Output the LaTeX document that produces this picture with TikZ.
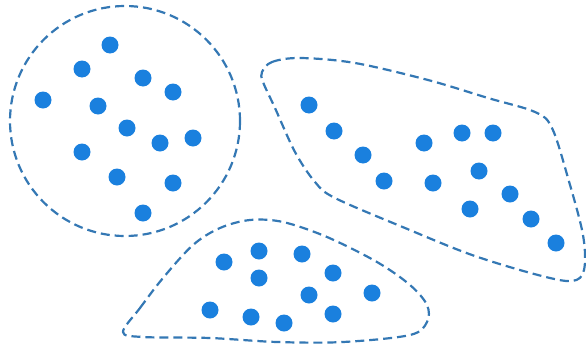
\documentclass[tikz,border=0pt]{standalone}
\begin{document}
\begin{tikzpicture}[x=1pt,y=-1pt,
    dot/.style={circle, fill=dotblue, inner sep=0pt, minimum size=17pt},
    blob/.style={draw=lineblue, line width=2.2pt, dash pattern=on 9pt off 5pt}]
    \definecolor{dotblue}{RGB}{26,128,222}
    \definecolor{lineblue}{RGB}{52,120,180}
    \useasboundingbox (0,0) rectangle (586,351);

    % cluster outlines
    \draw[blob] (125,121) circle (115);
    \draw[blob] plot[smooth cycle, tension=0.55] coordinates {
        (262,72) (272,62) (300,58) (355,63) (428,80) (488,98) (535,112)
        (552,128) (568,178) (583,235) (584,270) (572,281) (538,275)
        (472,255) (405,228) (335,198) (315,182) (295,152) (275,108) (263,82)};
    \draw[blob] plot[smooth cycle, tension=0.55] coordinates {
        (123,332) (140,308) (163,278) (193,245) (220,228) (250,220) (283,222)
        (327,237) (377,262) (410,285) (427,305) (427,322) (410,335)
        (343,342) (277,342) (210,338) (143,337)};

    % circle cluster
    \node (a1) at (110,45) [dot] {};
    \node (a2) at (82,69) [dot] {};
    \node (a3) at (143,78) [dot] {};
    \node (a4) at (173,92) [dot] {};
    \node (a5) at (43,100) [dot] {};
    \node (a6) at (98,106) [dot] {};
    \node (a7) at (127,128) [dot] {};
    \node (a8) at (160,143) [dot] {};
    \node (a9) at (193,138) [dot] {};
    \node (a10) at (82,152) [dot] {};
    \node (a11) at (117,177) [dot] {};
    \node (a12) at (173,183) [dot] {};
    \node (a13) at (143,213) [dot] {};

    % right cluster
    \node (b1) at (309,105) [dot] {};
    \node (b2) at (334,131) [dot] {};
    \node (b3) at (363,155) [dot] {};
    \node (b4) at (384,181) [dot] {};
    \node (b5) at (424,143) [dot] {};
    \node (b6) at (433,183) [dot] {};
    \node (b7) at (462,133) [dot] {};
    \node (b8) at (493,133) [dot] {};
    \node (b9) at (479,171) [dot] {};
    \node (b10) at (510,194) [dot] {};
    \node (b11) at (470,209) [dot] {};
    \node (b12) at (531,219) [dot] {};
    \node (b13) at (556,243) [dot] {};

    % bottom cluster
    \node (c1) at (224,262) [dot] {};
    \node (c2) at (259,251) [dot] {};
    \node (c3) at (302,254) [dot] {};
    \node (c4) at (259,278) [dot] {};
    \node (c5) at (333,273) [dot] {};
    \node (c6) at (309,295) [dot] {};
    \node (c7) at (372,293) [dot] {};
    \node (c8) at (210,310) [dot] {};
    \node (c9) at (251,317) [dot] {};
    \node (c10) at (284,323) [dot] {};
    \node (c11) at (333,314) [dot] {};
\end{tikzpicture}
\end{document}
